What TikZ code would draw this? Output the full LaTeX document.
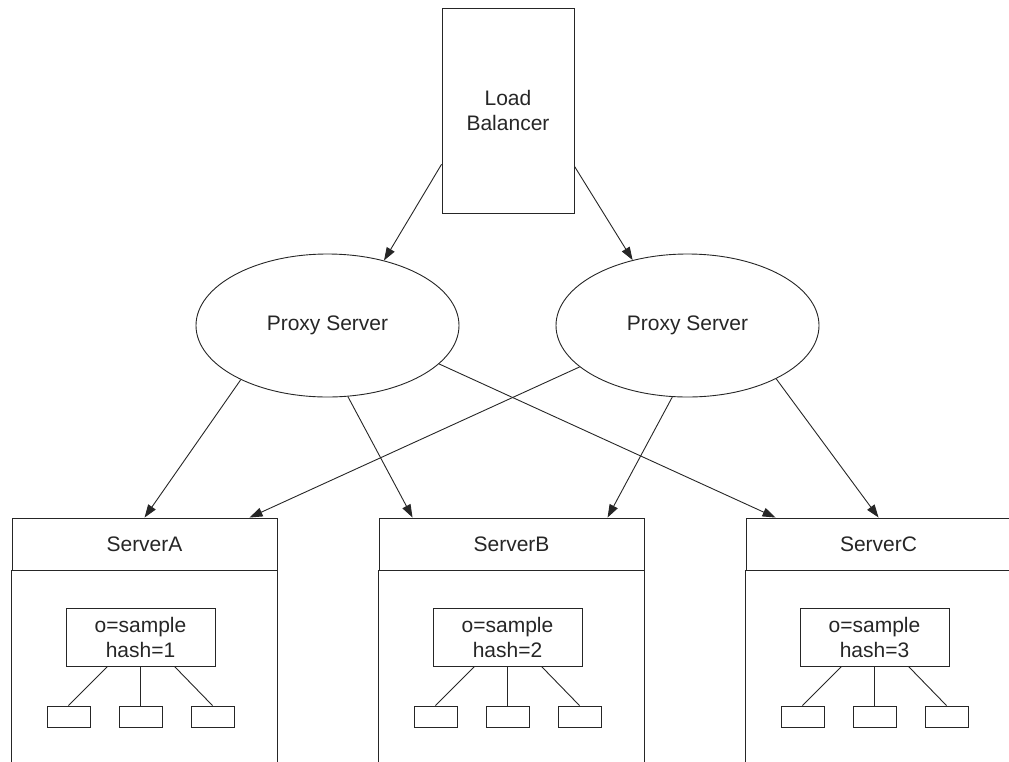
\documentclass[tikz,border=0pt]{standalone}
\usepackage{fontspec}
\setmainfont{Liberation Sans}
\usetikzlibrary{shapes.geometric,arrows.meta}
\begin{document}
\begin{tikzpicture}[x=1pt,y=-1pt,line width=0.9pt,draw=black!85,
  txt/.style={font=\fontsize{21pt}{25pt}\selectfont,text=black!85,align=center},
  box/.style={draw,rectangle,inner sep=0pt},
  proxy/.style={draw,ellipse,inner sep=0pt,minimum width=263pt,minimum height=143pt,txt},
  arr/.style={-{Triangle[length=13pt,width=9pt]}},
  header/.style={box,minimum width=265pt,minimum height=52pt,txt},
  dbox/.style={box,minimum width=149pt,minimum height=58pt,txt},
  leaf/.style={box,minimum width=43pt,minimum height=21pt}]
\useasboundingbox (0,0) rectangle (1009,761);
\clip (0,0) rectangle (1009,761);
\node[box,txt,minimum width=132pt,minimum height=205pt] (lb) at (508,110.5) {Load\\Balancer};
\node[proxy] (p1) at (327.5,325.5) {Proxy Server};
\node[proxy] (p2) at (687.5,325.5) {Proxy Server};
\foreach \n/\L/\h in {A/12/1,B/379/2,C/746/3}{
  \node[header] (s\n) at (\L+132.5,544) {Server\n};
  \draw (s\n.south west) -- ++(0,220);
  \draw (s\n.south east) -- ++(0,220);
  \node[dbox] (d\n) at (\L+128.5,637) {o=sample\\hash=\h};
  \node[leaf] (l\n1) at (\L+56.5,716.5) {};
  \node[leaf] (l\n2) at (\L+128.5,716.5) {};
  \node[leaf] (l\n3) at (\L+200.5,716.5) {};
  \draw ([xshift=-33pt]d\n.south) -- (l\n1.north);
  \draw (d\n.south) -- (l\n2.north);
  \draw ([xshift=34pt]d\n.south) -- (l\n3.north);
}
\draw[arr] (lb.219.5) -- (p1.49.4);
\draw[arr] (lb.-40) -- (p2.130.6);
\draw[arr] (p1.212) -- ([xshift=133pt]sA.north west);
\draw[arr] (p1.286) -- ([xshift=34pt]sB.north west);
\draw[arr] (p1.341) -- ([xshift=30pt]sC.north west);
\draw[arr] (p2.201) -- ([xshift=238pt]sA.north west);
\draw[arr] (p2.258.5) -- ([xshift=229pt]sB.north west);
\draw[arr] (p2.329) -- ([xshift=133pt]sC.north west);
\end{tikzpicture}
\end{document}
